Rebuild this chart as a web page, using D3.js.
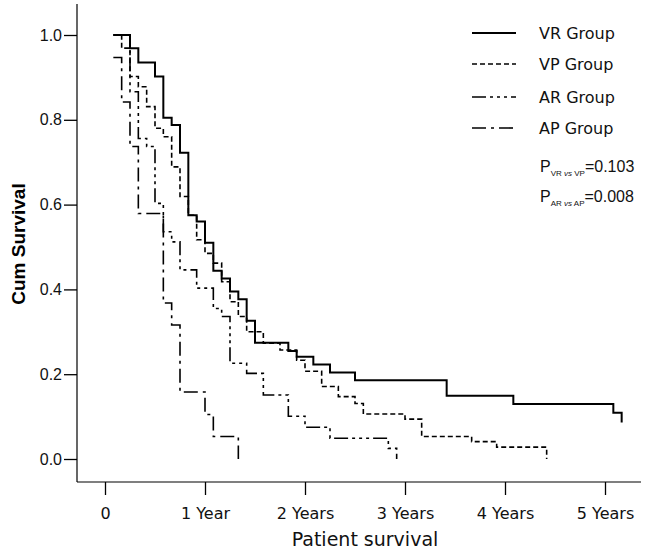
<!DOCTYPE html>
<html>
<head>
<meta charset="utf-8">
<script src="https://cdn.jsdelivr.net/npm/d3@7"></script>
<style>
  body { margin: 0; background: #fff; }
  svg { display: block; }
</style>
</head>
<body>
<div class="canvas"></div>
<script>
// survival times are in months, one step per month
const vrMonths = [1, 3, 4, 6, 7, 8, 9, 10, 11, 12, 13, 14, 15, 16, 17, 18, 22, 23, 25, 27, 30, 41, 49, 61, 62];
const vrSurv = [1.0, 0.969, 0.935, 0.902, 0.805, 0.788, 0.722, 0.575, 0.560, 0.510, 0.444, 0.426, 0.395, 0.377, 0.326, 0.274, 0.255, 0.241, 0.223, 0.204, 0.186, 0.149, 0.130, 0.109, 0.086];

const vpMonths = [1, 2, 3, 4, 5, 6, 7, 8, 9, 10, 11, 12, 13, 14, 15, 16, 17, 19, 21, 23, 24, 26, 28, 30, 31, 36, 38, 44, 47, 53];
const vpSurv = [1.0, 0.969, 0.902, 0.878, 0.831, 0.780, 0.760, 0.689, 0.619, 0.575, 0.517, 0.485, 0.462, 0.418, 0.371, 0.336, 0.300, 0.273, 0.257, 0.233, 0.207, 0.171, 0.147, 0.131, 0.106, 0.094, 0.053, 0.041, 0.028, 0.0];

const arMonths = [1, 3, 4, 5, 6, 7, 8, 9, 11, 13, 14, 15, 17, 19, 22, 24, 27, 34, 35];
const arSurv = [1.0, 0.866, 0.756, 0.737, 0.603, 0.536, 0.512, 0.446, 0.403, 0.355, 0.336, 0.226, 0.202, 0.151, 0.101, 0.075, 0.049, 0.025, 0.0];

const apMonths = [1, 2, 3, 4, 7, 8, 9, 12, 13, 16];
const apSurv = [0.947, 0.842, 0.737, 0.579, 0.368, 0.316, 0.158, 0.105, 0.053, 0.0];

const xTicks = [0, 12, 24, 36, 48, 60];
const xTickLabels = ['0', '1 Year', '2 Years', '3 Years', '4 Years', '5 Years'];
const yTicks = [0, 0.2, 0.4, 0.6, 0.8, 1.0];

const groups = ['VR Group', 'VP Group', 'AR Group', 'AP Group'];
const pLabels = [
  { a: 'VR', b: 'VP', p: '=0.103' },
  { a: 'AR', b: 'AP', p: '=0.008' }
];

const dims = { width: 647, height: 551 };

const svg = d3.select('.canvas')
  .append('svg')
  .attr('width', dims.width)
  .attr('height', dims.height);

const x = d3.scaleLinear().domain([0, 60]).range([105, 605]);
const y = d3.scaleLinear().domain([0, 1]).range([459, 35]);

const axisX = 77;
const axisY = 482;

// axis lines
svg.append('line')
  .attr('x1', axisX).attr('x2', axisX)
  .attr('y1', 4).attr('y2', axisY)
  .attr('stroke', '#000').attr('stroke-width', 1.2);

svg.append('line')
  .attr('x1', axisX).attr('x2', 641)
  .attr('y1', axisY).attr('y2', axisY)
  .attr('stroke', '#000').attr('stroke-width', 1.2);

const xAxis = d3.axisBottom(x)
  .tickValues(xTicks)
  .tickFormat((d, i) => xTickLabels[i])
  .tickSize(13)
  .tickPadding(13);

const gx = svg.append('g')
  .attr('transform', `translate(0, ${axisY})`)
  .call(xAxis);
gx.select('.domain').remove();
gx.selectAll('line').attr('stroke', '#000').attr('stroke-width', 1.3);
gx.selectAll('text')
  .attr('fill', '#111')
  .style('font-family', '"DejaVu Sans", sans-serif')
  .style('font-size', '16px');

const yAxis = d3.axisLeft(y)
  .tickValues(yTicks)
  .tickFormat(d3.format('.1f'))
  .tickSize(13)
  .tickPadding(2);

const gy = svg.append('g')
  .attr('transform', `translate(${axisX}, 0)`)
  .call(yAxis);
gy.select('.domain').remove();
gy.selectAll('line').attr('stroke', '#000').attr('stroke-width', 1.3);
gy.selectAll('text')
  .attr('fill', '#111')
  .style('font-family', '"Liberation Sans", Arial, sans-serif')
  .style('font-size', '16px');

svg.append('text')
  .attr('transform', 'translate(25, 244) rotate(-90)')
  .attr('text-anchor', 'middle')
  .style('font-family', '"Liberation Sans", Arial, sans-serif')
  .style('font-size', '19px')
  .style('font-weight', 'bold')
  .text('Cum Survival');

svg.append('text')
  .attr('x', 365).attr('y', 546)
  .attr('text-anchor', 'middle')
  .style('font-family', '"DejaVu Sans", sans-serif')
  .style('font-size', '19px')
  .attr('fill', '#111')
  .text('Patient survival');

// curves
const styles = [
  { dash: null, width: 2 },
  { dash: '5,3', width: 1.6 },
  { dash: '14,4,3,4,3,4,3,4', width: 1.6 },
  { dash: '14,5,3,5', width: 1.6 }
];

const series = [
  vrMonths.map((m, i) => [m, vrSurv[i]]),
  vpMonths.map((m, i) => [m, vpSurv[i]]),
  arMonths.map((m, i) => [m, arSurv[i]]),
  apMonths.map((m, i) => [m, apSurv[i]])
];

const line = d3.line()
  .x(d => x(d[0]))
  .y(d => y(d[1]))
  .curve(d3.curveStepAfter);

svg.append('g')
  .selectAll('path')
  .data(series)
  .enter()
  .append('path')
    .attr('d', line)
    .attr('fill', 'none')
    .attr('stroke', '#000')
    .attr('stroke-width', (d, i) => styles[i].width)
    .attr('stroke-dasharray', (d, i) => styles[i].dash);

// legend
const legend = svg.append('g');
const legendY = [33, 64, 97, 128];

groups.forEach((name, i) => {
  legend.append('line')
    .attr('x1', 472).attr('x2', 516)
    .attr('y1', legendY[i]).attr('y2', legendY[i])
    .attr('stroke', '#000')
    .attr('stroke-width', styles[i].width)
    .attr('stroke-dasharray', styles[i].dash);

  legend.append('text')
    .attr('x', 539).attr('y', legendY[i] + 6)
    .style('font-family', '"DejaVu Sans", sans-serif')
    .style('font-size', '16px')
    .attr('fill', '#111')
    .text(name);
});

pLabels.forEach((d, i) => {
  const t = legend.append('text')
    .attr('x', 540).attr('y', 172 + i * 30)
    .style('font-family', '"Liberation Sans", Arial, sans-serif')
    .style('font-size', '16px')
    .attr('fill', '#111');
  t.append('tspan').text('P');
  t.append('tspan').attr('dy', 4).style('font-size', '8px').text(d.a + ' ');
  t.append('tspan').style('font-size', '8px').style('font-style', 'italic').text('vs');
  t.append('tspan').style('font-size', '8px').text(' ' + d.b);
  t.append('tspan').attr('dy', -4).text(d.p);
});
</script>
</body>
</html>
